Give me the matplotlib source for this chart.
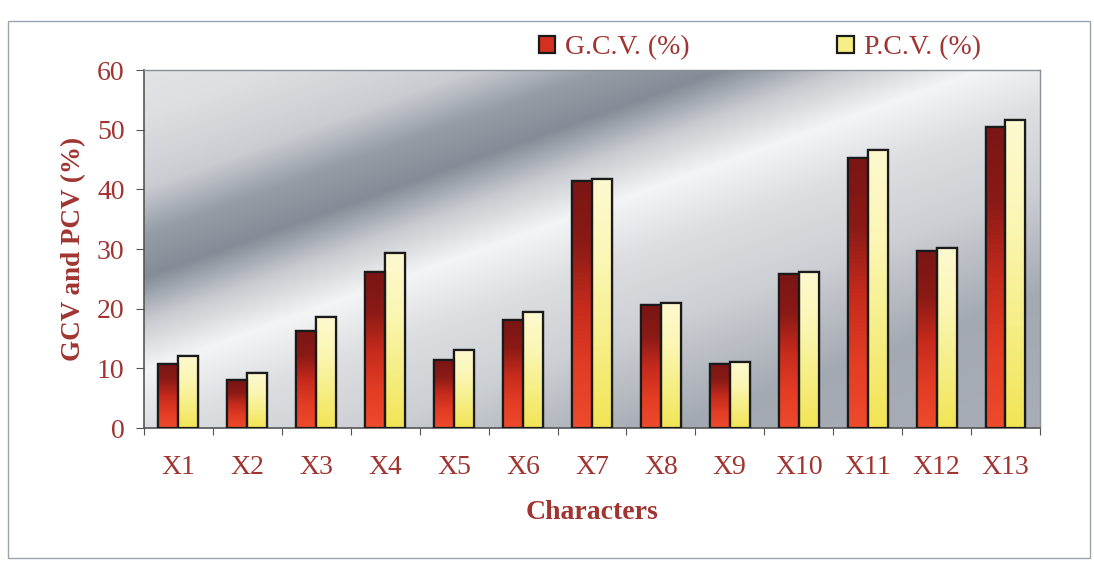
import numpy as np
import matplotlib.pyplot as plt
from matplotlib.patches import Rectangle
from matplotlib.colors import LinearSegmentedColormap

categories = ["X1", "X2", "X3", "X4", "X5", "X6", "X7",
              "X8", "X9", "X10", "X11", "X12", "X13"]
gcv = [10.8, 8.0, 16.2, 26.2, 11.4, 18.1, 41.4, 20.6, 10.7, 25.8, 45.2, 29.6, 50.5]
pcv = [12.1, 9.2, 18.6, 29.3, 13.1, 19.5, 41.7, 21.0, 11.0, 26.2, 46.6, 30.2, 51.7]
yticks = [0, 10, 20, 30, 40, 50, 60]

txt = "#a03430"
plt.rcParams["font.family"] = ["Liberation Serif", "DejaVu Serif"]

fig = plt.figure(figsize=(10.94, 5.62), dpi=100)
# thin frame round the whole chart
fig.patches.append(Rectangle((0.007, 0.007), 0.989, 0.955, transform=fig.transFigure,
                             fill=False, edgecolor="#9aa4ad", linewidth=1.0))

ax = fig.add_axes([0.1316, 0.2384, 0.8190, 0.6370])

# cloudy grey backdrop of the plot area: a dark diagonal band with a light streak below it
gx, gy = np.meshgrid(np.linspace(0, 1, 400), np.linspace(0, 1, 200))
d = gy - 0.42 - 0.9 * gx
shade = np.interp(d, [-1.4, -0.95, -0.65, -0.42, -0.26, -0.12, 0.0, 0.12, 0.25, 0.45, 0.8],
                  [0.70, 0.68, 0.82, 0.88, 0.96, 0.80, 0.57, 0.63, 0.81, 0.88, 0.92])
bg = np.dstack([shade - 0.12 * (1 - shade), shade - 0.05 * (1 - shade),
                shade + 0.05 * (1 - shade)])
bg = np.clip(bg, 0, 1)
ax.imshow(bg, extent=[0, 1, 0, 1], transform=ax.transAxes, origin="lower",
          aspect="auto", zorder=0, interpolation="bicubic")

x = np.arange(len(categories))
w = 0.29
red_cm = LinearSegmentedColormap.from_list("r", ["#ee4a2c", "#e23c24", "#c42a1c", "#8a1a16", "#7a1614"])
yel_cm = LinearSegmentedColormap.from_list("y", ["#f2e555", "#f6ee86", "#fbf6b4", "#fdf9cf"])
grad = np.linspace(0, 1, 64).reshape(-1, 1)

b1 = ax.bar(x - w / 2, gcv, w, facecolor="#d3301f", edgecolor="#1a1a1a",
            linewidth=1.6, label="G.C.V. (%)", zorder=3)
b2 = ax.bar(x + w / 2, pcv, w, facecolor="#f6ee86", edgecolor="#1a1a1a",
            linewidth=1.6, label="P.C.V. (%)", zorder=3)
for bars, cm in ((b1, red_cm), (b2, yel_cm)):
    for p in bars:
        im = ax.imshow(grad, cmap=cm, origin="lower", aspect="auto", zorder=3.5,
                       extent=[p.get_x(), p.get_x() + p.get_width(), 0, p.get_height()])
        im.set_clip_path(p)
        edge = Rectangle((p.get_x(), 0), p.get_width(), p.get_height(), fill=False,
                         edgecolor="#1a1a1a", linewidth=1.6, zorder=4)
        ax.add_patch(edge)

ax.set_xlim(-0.5, len(categories) - 0.5)
ax.set_ylim(0, 60)
ax.set_yticks(yticks)
ax.set_xticks(np.arange(len(categories) + 1) - 0.5)
ax.set_xticklabels([])
ax.set_xticks(x, minor=True)
ax.set_xticklabels(categories, minor=True)
ax.tick_params(axis="x", which="major", length=5, direction="out", color="#555555")
ax.tick_params(axis="x", which="minor", length=0, pad=19.5, labelsize=20, labelcolor=txt)
ax.tick_params(axis="y", length=6, direction="out", color="#555555",
               labelsize=20, labelcolor=txt, pad=8)
for s in ("left", "bottom"):
    ax.spines[s].set_color("#555555")
    ax.spines[s].set_linewidth(1.2)
for s in ("top", "right"):
    ax.spines[s].set_color("#8a8f96")
    ax.spines[s].set_linewidth(1.0)

ax.set_ylabel("GCV and PCV (%)", fontsize=19.5, fontweight="bold", color=txt, labelpad=8)
ax.set_xlabel("Characters", fontsize=20, fontweight="bold", color=txt, labelpad=14)

leg = fig.legend(handles=[b1, b2], loc="center", bbox_to_anchor=(0.6945, 0.915),
                 ncol=2, frameon=False, fontsize=20, handlelength=0.6, handleheight=0.6,
                 handletextpad=0.36, columnspacing=5.3)
for t in leg.get_texts():
    t.set_color(txt)

fig.savefig("out.png", dpi=100)
